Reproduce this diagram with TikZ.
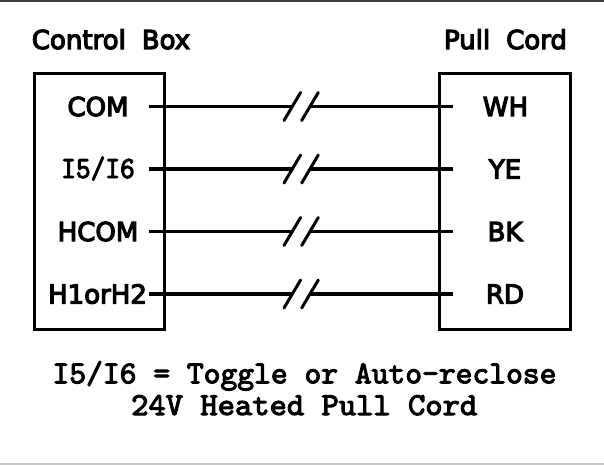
\documentclass[tikz,border=0pt]{standalone}
\usepackage{fontspec}
\usetikzlibrary{calc}
\newfontfamily\lblfont{DejaVu Sans}[RawFeature={embolden=4.5}]
\newfontfamily\tyfont{lmmono10-regular}[Extension=.otf,RawFeature={embolden=3.2}]
\tikzset{
  px/.style={x=1pt,y=-1pt},
  boxline/.style={draw=black,line width=3.2pt},
  wire/.style={draw=black,line width=3.2pt},
  slash/.style={draw=black,line width=3pt,line cap=round},
  lbl/.style={inner sep=0pt,anchor=base,font=\lblfont\fontsize{26}{30}\selectfont},
  note/.style={inner sep=0pt,anchor=base,font=\tyfont\fontsize{32}{36}\selectfont},
  notesmall/.style={inner sep=0pt,anchor=base,font=\tyfont\fontsize{28}{30}\selectfont,yscale=1.1,transform shape},
}
\begin{document}
\begin{tikzpicture}[px]
\useasboundingbox (0,0) rectangle (604,465);
\fill[white] (0,0) rectangle (604,465);
\draw[draw=black!75,line width=1.5pt] (0,1) -- (604,1);
\draw[draw=black!22,line width=2pt] (0,463.5) -- (604,463.5);
% boxes
\node[boxline,minimum width=130pt,minimum height=256pt,inner sep=0pt,anchor=north west] (cb) at (33,72) {};
\node[boxline,minimum width=131pt,minimum height=256pt,inner sep=0pt,anchor=north west] (pc) at (438,72) {};
% headers
\node[lbl] (cbt) at (111,49) {Control\hspace{16pt}Box};
\node[lbl] (pct) at (505.5,49) {Pull\hspace{16pt}Cord};
% left labels
\node[lbl] (l1) at (98,116) {COM};
\node[notesmall] (l2) at (98,178) {I5/I6};
\node[lbl] (l3) at (98,241) {HCOM};
\node[lbl] (l4) at (97.5,303.5) {H1orH2};
% right labels
\node[lbl] (r1) at (505.5,116) {WH};
\node[lbl] (r2) at (505,178.5) {YE};
\node[lbl] (r3) at (505,241) {BK};
\node[lbl] (r4) at (505,303.5) {RD};
% wires
\foreach \i/\y in {1/106.5,2/169,3/231.5,4/294}{
  \coordinate (a\i) at (149,\y);
  \coordinate (b\i) at (453,\y);
  \coordinate (p\i) at (292.3,\y);
  \coordinate (q\i) at (310,\y);
  \draw[wire] (a\i) -- (p\i);
  \draw[wire] (q\i) -- (b\i);
  \draw[slash] ($(p\i)+(-8.3,14)$) -- ($(p\i)+(8.3,-14)$);
  \draw[slash] ($(q\i)+(-8.3,14)$) -- ($(q\i)+(8.3,-14)$);
}
% notes
\node[note] (n1) at (304.5,383.3) {I5/I6 = Toggle or Auto-reclose};
\node[note,xscale=1.03,transform shape] (n2) at (304.2,415) {24V Heated Pull Cord};
\end{tikzpicture}
\end{document}
